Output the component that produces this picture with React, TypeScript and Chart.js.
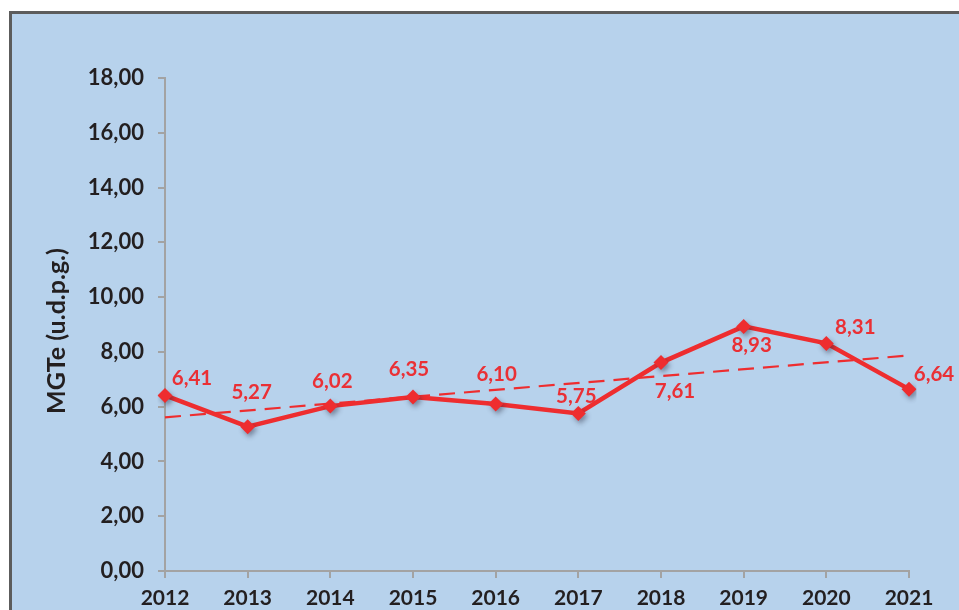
import React, { useEffect, useRef } from "react";
import { Chart, registerables } from "chart.js";

Chart.register(...registerables);

const years = ["2012", "2013", "2014", "2015", "2016", "2017", "2018", "2019", "2020", "2021"];
const mgte = [6.41, 5.27, 6.02, 6.35, 6.1, 5.75, 7.61, 8.93, 8.31, 6.64];
// linear trend line end values
const trendStart = 5.61;
const trendEnd = 7.87;
const yTicks = [0, 2, 4, 6, 8, 10, 12, 14, 16, 18];
const axisTitle = "MGTe (u.d.p.g.)";

// label offsets relative to point (px)
const labelDx = [27, 4, 2, -4, 1, -2, 14, 8, 29, 25];
const labelDy = [-17, -34, -25, -28, -30, -17, 29, 19, -16, -15];

const RED = "#ee2d2f";
const LABEL_RED = "#ea3035";
const TEXT = "#231f20";
const AXIS = "#a3a3a3";
const FONT = "Lato";

const fmt = (v: number) => v.toFixed(2).replace(".", ",");

export default function App() {
  const ref = useRef<HTMLCanvasElement | null>(null);

  useEffect(() => {
    if (!ref.current) return;
    const trend = years.map((_, i) => (i === 0 ? trendStart : i === years.length - 1 ? trendEnd : null));

    const labelsPlugin = {
      id: "customLabels",
      afterDatasetsDraw(chart: any) {
        const ctx = chart.ctx;
        const meta = chart.getDatasetMeta(0);
        ctx.save();
        ctx.font = `bold 20.5px ${FONT}`;
        ctx.fillStyle = LABEL_RED;
        ctx.textAlign = "center";
        ctx.textBaseline = "middle";
        meta.data.forEach((pt: any, i: number) => {
          ctx.fillText(fmt(mgte[i]), pt.x + labelDx[i], pt.y + labelDy[i]);
        });
        ctx.restore();
        // axis title
        ctx.save();
        ctx.font = `bold 25px ${FONT}`;
        ctx.fillStyle = TEXT;
        ctx.textAlign = "center";
        ctx.textBaseline = "middle";
        ctx.translate(57, 331);
        ctx.rotate(-Math.PI / 2);
        ctx.fillText(axisTitle, 0, 0);
        ctx.restore();
      },
    };

    const shadowPlugin = {
      id: "pointShadow",
      beforeDatasetDraw(chart: any, args: any) {
        if (args.index === 0) {
          const ctx = chart.ctx;
          ctx.save();
          ctx.shadowColor = "rgba(40,40,60,0.45)";
          ctx.shadowBlur = 5;
          ctx.shadowOffsetX = 2;
          ctx.shadowOffsetY = 3;
        }
      },
      afterDatasetDraw(chart: any, args: any) {
        if (args.index === 0) chart.ctx.restore();
      },
    };

    const chart = new Chart(ref.current, {
      type: "line",
      data: {
        labels: years,
        datasets: [
          {
            data: mgte,
            showLine: false,
            pointStyle: "rectRot",
            pointRadius: 7.5,
            pointBackgroundColor: RED,
            pointBorderColor: RED,
            pointBorderWidth: 0,
            order: 0,
          } as any,
          {
            data: mgte,
            borderColor: RED,
            borderWidth: 4.5,
            pointRadius: 0,
            tension: 0,
            order: 1,
          },
          {
            data: trend,
            borderColor: RED,
            borderWidth: 2.2,
            borderDash: [16, 9],
            pointRadius: 0,
            spanGaps: true,
            order: 2,
          },
        ],
      },
      options: {
        animation: false,
        responsive: false,
        maintainAspectRatio: false,
        layout: { padding: { left: 0, top: 78, right: 50, bottom: 0 } },
        plugins: { legend: { display: false }, tooltip: { enabled: false }, title: { display: false } },
        scales: {
          x: {
            type: "category",
            offset: false,
            grid: { drawOnChartArea: false, drawTicks: true, tickLength: 7, color: AXIS, lineWidth: 2 },
            border: { display: true, color: AXIS, width: 2 },
            ticks: { color: TEXT, font: { family: FONT, weight: "bold", size: 21 }, padding: 8, maxRotation: 0, autoSkip: false },
            afterFit: (s: any) => { s.height = 39; },
          },
          y: {
            min: 0,
            max: 18,
            afterBuildTicks: (s: any) => { s.ticks = yTicks.map((v) => ({ value: v })); },
            grid: { drawOnChartArea: false, drawTicks: true, tickLength: 7, color: AXIS, lineWidth: 2 },
            border: { display: true, color: AXIS, width: 2 },
            ticks: { color: TEXT, font: { family: FONT, weight: "bold", size: 22 }, padding: 14, callback: (v: any) => fmt(Number(v)) },
            afterFit: (s: any) => { s.width = 165; },
          },
        },
      },
      plugins: [labelsPlugin, shadowPlugin],
    });
    return () => chart.destroy();
  }, []);

  return (
    <div style={{ position: "absolute", left: 0, top: 0, width: 959, height: 610, overflow: "hidden", background: "#ffffff" }}>
      <div
        style={{
          position: "absolute",
          left: 9,
          top: 11,
          width: 980,
          height: 640,
          background: "#b7d2ec",
          borderLeft: "3px solid #5c5c5c",
          borderTop: "3px solid #5c5c5c",
        }}
      />
      <canvas ref={ref} width={959} height={610} style={{ position: "absolute", left: 0, top: 0, width: 959, height: 610 }} />
    </div>
  );
}
